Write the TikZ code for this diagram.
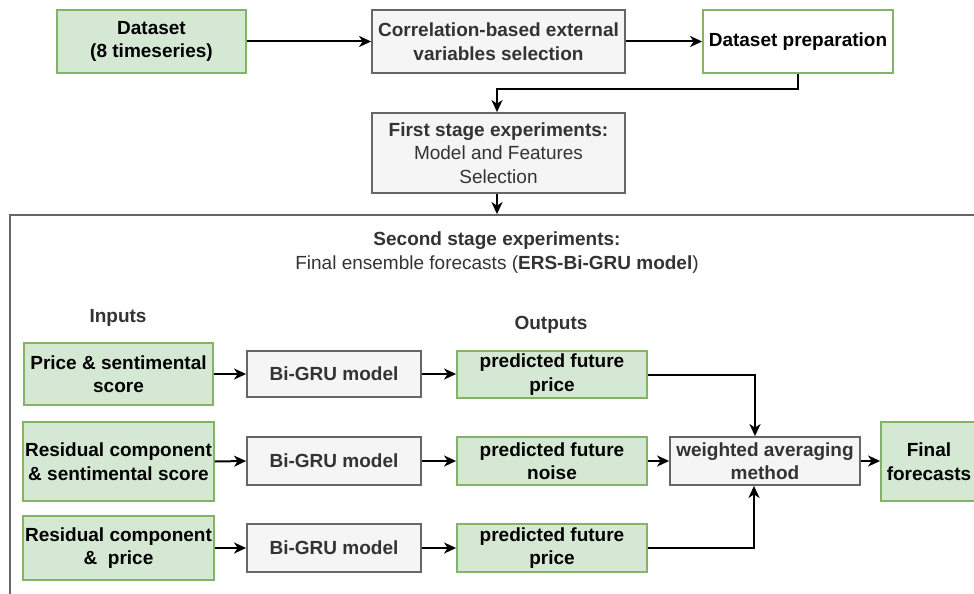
\documentclass[tikz,border=0pt]{standalone}
\usepackage{fontspec}
\setmainfont{Liberation Sans}
\usetikzlibrary{arrows.meta,calc}
\definecolor{gfill}{HTML}{D5E8D4}
\definecolor{gline}{HTML}{82B366}
\definecolor{sfill}{HTML}{F5F5F5}
\definecolor{sline}{HTML}{666666}
\definecolor{stext}{HTML}{333333}
\tikzset{
  base/.style={rectangle, line width=1.8pt, inner sep=2pt, align=center,
    font=\fontsize{19}{23.5}\selectfont\bfseries},
  greenbox/.style={base, draw=gline, fill=gfill, text=black},
  whitebox/.style={base, draw=gline, fill=white, text=black},
  graybox/.style={base, draw=sline, fill=sfill, text=stext},
  lbl/.style={align=center, text=stext, font=\fontsize{19}{23.5}\selectfont\bfseries},
  arr/.style={draw=black, line width=2pt, -{Stealth[length=12pt,width=11pt,inset=3.5pt]}},
  sz/.style 2 args={minimum width=#1pt, minimum height=#2pt}
}
\begin{document}
\begin{tikzpicture}[x=1pt,y=-1pt]
\useasboundingbox (0,0) rectangle (974,594);
\clip (0,0) rectangle (974,594);
\fill[white] (0,0) rectangle (974,594);
% outer container
\node[draw=sline, line width=1.8pt, fill=none, minimum width=980pt, minimum height=395pt, inner sep=0pt] (frame) at (500,412.5) {};
% top row
\node[greenbox, sz={189}{63}] (ds) at (151.5,41.5) {Dataset\\(8 timeseries)};
\node[graybox, sz={253}{63}] (corr) at (498.5,41.5) {Correlation-based external\\variables selection};
\node[whitebox, sz={190}{63}] (prep) at (798,41.5) {Dataset preparation};
\node[graybox, sz={253}{80}] (first) at (498.5,153) {First stage experiments:\\\mdseries Model and Features\\\mdseries Selection};
% title
\node[lbl] (title) at (497,252.5) {Second stage experiments:\\\mdseries Final ensemble forecasts (\textbf{ERS-Bi-GRU model})};
\node[lbl] (inputs) at (118,318) {Inputs};
\node[lbl] (outputs) at (551,325) {Outputs};
% inputs
\node[greenbox, sz={189}{62}] (in1) at (118.5,374) {Price \& sentimental\\score};
\node[greenbox, sz={189}{79}] (in2) at (118.5,461.5) {Residual component\\\& sentimental score};
\node[greenbox, sz={189}{64}] (in3) at (118.5,548) {Residual component\\\& \ price};
% models
\node[graybox, sz={174}{46}] (bg1) at (334,374) {Bi-GRU model};
\node[graybox, sz={174}{48}] (bg2) at (334,461) {Bi-GRU model};
\node[graybox, sz={174}{48}] (bg3) at (334,548) {Bi-GRU model};
% outputs
\node[greenbox, sz={190}{47}] (out1) at (552,374.5) {predicted future\\price};
\node[greenbox, sz={190}{48}] (out2) at (552,461) {predicted future\\noise};
\node[greenbox, sz={190}{48}] (out3) at (552,548) {predicted future\\price};
\node[graybox, sz={190}{48}] (wa) at (765,461) {weighted averaging\\method};
\node[greenbox, sz={96}{79}] (fin) at (929,461.5) {Final\\forecasts};
% connectors
\draw[arr] (ds.east) -- (corr.west);
\draw[arr] (corr.east) -- (prep.west);
\draw[arr] (prep.south) -- ++(0,15) -| ([xshift=-1.5pt]first.north);
\draw[arr] ([xshift=-1.5pt]first.south) -- ([xshift=-1.5pt]first.south |- frame.north);
\draw[arr] (in1.east) -- (bg1.west);
\draw[arr] (in2.east) -- (bg2.west);
\draw[arr] (in3.east) -- (bg3.west);
\draw[arr] (bg1.east) -- (out1.west |- bg1.east);
\draw[arr] (bg2.east) -- (out2.west);
\draw[arr] (bg3.east) -- (out3.west);
\draw[arr] (out1.east) -| ([xshift=-10pt]wa.north);
\draw[arr] (out2.east) -- (wa.west);
\draw[arr] (out3.east) -| ([xshift=-11pt]wa.south);
\draw[arr] (wa.east) -- (fin.west |- wa.east);
\end{tikzpicture}
\end{document}
